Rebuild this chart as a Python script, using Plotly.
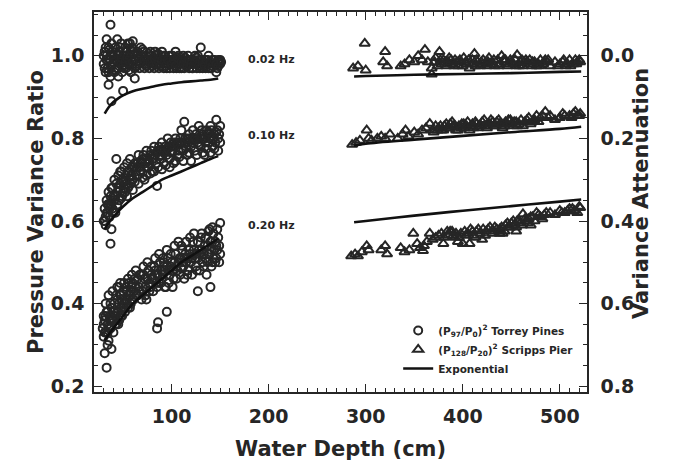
import plotly.graph_objects as go

# ---------------- data ----------------
# Torrey Pines, (P97/P0)^2, circles
tp02 = [(37,1.075),(35,0.93),(50,0.915),(38,0.89),(33,1.04),(60,1.035),(55,1.03),(130,1.02),(45,0.95),(62,0.945),
        (30,0.98),(31,1.01),(32,0.96),(33,1.00),(34,0.97),(35,1.02),(36,0.99),(37,0.95),(38,1.03),(39,0.98),
        (40,1.00),(41,0.96),(42,1.02),(43,0.99),(44,1.04),(45,0.97),(46,1.01),(47,0.98),(48,1.03),(49,0.96),
        (50,1.00),(51,0.99),(52,1.02),(53,0.97),(54,1.01),(55,0.98),(56,1.00),(57,1.03),(58,0.96),(59,0.99),
        (60,1.01),(62,0.97),(64,1.00),(66,0.98),(68,1.02),(70,0.99),(72,0.97),(74,1.00),(76,0.98),(78,1.01),
        (80,0.99),(82,0.97),(84,1.00),(86,0.98),(88,0.99),(90,1.01),(92,0.97),(94,0.99),(96,0.98),(98,1.00),
        (100,0.99),(102,0.97),(104,1.01),(106,0.98),(108,0.99),(110,0.97),(112,1.00),(114,0.98),(116,0.99),(118,0.97),
        (120,0.99),(122,0.98),(124,1.00),(126,0.97),(128,0.99),(130,0.98),(132,0.97),(134,0.99),(136,0.98),(138,1.00),
        (140,0.97),(142,0.99),(144,0.98),(146,0.96),(148,0.99),(150,0.98),
        (31,0.97),(33,0.99),(35,0.96),(37,1.00),(39,1.01),(41,0.99),(43,0.97),(45,1.00),(47,1.02),(49,0.99),
        (51,0.97),(53,1.00),(55,0.99),(57,0.98),(59,1.02),(61,0.99),(63,0.98),(65,1.01),(67,0.97),(69,1.00),
        (71,1.01),(73,0.98),(75,0.99),(77,0.97),(79,1.00),(81,0.98),(83,1.01),(85,0.99),(87,0.97),(89,1.00),
        (91,0.98),(93,1.00),(95,0.97),(97,0.99),(99,0.98),(101,1.00),(103,0.99),(105,0.97),(107,1.00),(109,0.98),
        (111,0.99),(113,0.97),(115,0.98),(117,1.00),(119,0.98),(121,0.97),(123,0.99),(125,0.98),(127,1.00),(129,0.97),
        (131,0.99),(133,0.98),(135,0.97),(137,0.99),(139,0.98),(141,0.97),(143,0.99),(145,0.98),(147,0.97),(149,0.985),
        (30,1.00),(32,1.02),(34,0.99),(36,1.015),(38,0.975),(40,0.985),(42,0.965),(44,1.005),(46,0.985),(48,0.995),
        (50,0.975),(52,0.985),(54,0.995),(56,0.965),(58,1.015),(60,0.985),(62,1.005),(64,0.975),(66,0.995),(68,0.985),
        (70,1.015),(72,0.99),(74,0.975),(76,1.005),(78,0.985),(80,0.975),(82,0.995),(84,0.98),(86,1.005),(88,0.975),
        (90,0.99),(92,1.0),(94,0.975),(96,0.99),(98,0.97),(100,0.98),(102,0.99),(104,0.975),(106,0.995),(108,0.97),
        (110,0.985),(112,0.98),(114,0.995),(116,0.975),(118,0.99),(120,0.98),(122,0.97),(124,0.985),(126,0.995),(128,0.975),
        (130,0.99),(132,0.985),(134,0.975),(136,0.99),(138,0.97),(140,0.985),(142,0.975),(144,0.99),(146,0.98),(148,0.975),
        (150,0.99),(151,0.985)]

tp10 = [(30,0.60),(31,0.63),(32,0.59),(33,0.65),(34,0.62),(35,0.67),(36,0.61),(37,0.64),(38,0.68),(39,0.63),
        (40,0.66),(41,0.70),(42,0.62),(43,0.75),(44,0.67),(45,0.71),(46,0.65),(47,0.69),(48,0.72),(49,0.66),
        (50,0.70),(51,0.73),(52,0.67),(53,0.71),(54,0.74),(55,0.68),(56,0.72),(57,0.75),(58,0.69),(59,0.73),
        (60,0.70),(62,0.74),(64,0.71),(66,0.76),(68,0.72),(70,0.75),(72,0.70),(74,0.77),(76,0.73),(78,0.76),
        (80,0.72),(82,0.78),(84,0.74),(85,0.685),(86,0.77),(88,0.75),(90,0.79),(92,0.74),(94,0.77),(96,0.80),
        (98,0.75),(100,0.78),(102,0.74),(104,0.80),(106,0.76),(108,0.79),(110,0.82),(112,0.77),(113,0.84),(114,0.80),
        (116,0.76),(118,0.81),(120,0.78),(122,0.82),(124,0.77),(126,0.80),(128,0.83),(130,0.78),(132,0.81),(134,0.76),
        (136,0.82),(138,0.79),(140,0.83),(142,0.78),(144,0.81),(146,0.845),(148,0.80),(150,0.83),
        (31,0.60),(33,0.62),(35,0.64),(37,0.66),(39,0.68),(41,0.65),(43,0.69),(45,0.68),(47,0.72),(49,0.70),
        (51,0.68),(53,0.69),(55,0.72),(57,0.70),(59,0.71),(61,0.73),(63,0.72),(65,0.74),(67,0.73),(69,0.74),
        (71,0.76),(73,0.74),(75,0.75),(77,0.74),(79,0.77),(81,0.75),(83,0.76),(87,0.78),(89,0.76),(91,0.77),
        (93,0.78),(95,0.76),(97,0.78),(99,0.79),(101,0.77),(103,0.78),(105,0.79),(107,0.77),(109,0.80),(111,0.79),
        (115,0.78),(117,0.79),(119,0.80),(121,0.79),(123,0.80),(125,0.81),(127,0.79),(129,0.80),(131,0.82),(133,0.80),
        (135,0.79),(137,0.81),(139,0.80),(141,0.82),(143,0.80),(145,0.79),(147,0.82),(149,0.81),
        (32,0.61),(34,0.64),(36,0.63),(38,0.65),(40,0.62),(42,0.66),(44,0.64),(46,0.68),(48,0.655),(50,0.67),
        (52,0.695),(54,0.66),(56,0.685),(58,0.71),(60,0.675),(62,0.695),(64,0.73),(66,0.69),(68,0.745),(70,0.705),
        (72,0.73),(74,0.71),(76,0.745),(78,0.715),(80,0.75),(82,0.72),(84,0.765),(86,0.73),(88,0.76),(90,0.725),
        (92,0.765),(94,0.735),(96,0.775),(98,0.73),(100,0.765),(102,0.79),(104,0.745),(106,0.785),(108,0.755),(110,0.775),
        (112,0.745),(114,0.79),(116,0.80),(118,0.765),(120,0.745),(122,0.795),(124,0.80),(126,0.76),(128,0.785),(130,0.805),
        (132,0.765),(134,0.80),(136,0.775),(138,0.815),(140,0.765),(142,0.80),(144,0.775),(146,0.815),(148,0.77),(150,0.79)]

tp20 = [(33,0.245),(31,0.28),(34,0.30),(38,0.29),(38,0.58),(37,0.545),(85,0.34),(86,0.355),(95,0.38),(127,0.43),
        (140,0.44),(146,0.54),(150,0.595),(142,0.585),(138,0.575),(44,0.44),(47,0.45),(92,0.50),(110,0.485),
        (29,0.34),(30,0.32),(31,0.36),(32,0.33),(33,0.38),(34,0.35),(35,0.31),(36,0.37),(37,0.34),(38,0.39),
        (39,0.36),(40,0.33),(41,0.40),(42,0.37),(43,0.35),(44,0.41),(45,0.38),(46,0.36),(47,0.42),(48,0.39),
        (49,0.37),(50,0.43),(51,0.40),(52,0.38),(53,0.44),(54,0.41),(55,0.39),(56,0.45),(57,0.42),(58,0.40),
        (59,0.44),(60,0.41),(62,0.46),(64,0.42),(66,0.44),(68,0.47),(70,0.43),(72,0.46),(74,0.41),(76,0.48),
        (78,0.44),(80,0.46),(82,0.49),(84,0.45),(86,0.47),(88,0.50),(90,0.46),(92,0.49),(94,0.44),(96,0.51),
        (98,0.47),(100,0.50),(102,0.46),(104,0.52),(106,0.48),(108,0.51),(110,0.54),(112,0.49),(114,0.52),(116,0.47),
        (118,0.53),(120,0.50),(122,0.55),(124,0.51),(126,0.48),(128,0.53),(130,0.56),(132,0.50),(134,0.54),(136,0.47),
        (138,0.52),(140,0.55),(142,0.50),(144,0.53),(146,0.51),(148,0.56),(150,0.52),
        (30,0.35),(32,0.37),(34,0.33),(36,0.34),(38,0.36),(40,0.38),(42,0.35),(44,0.38),(46,0.40),(48,0.42),
        (50,0.39),(52,0.41),(54,0.43),(56,0.42),(58,0.43),(60,0.45),(61,0.43),(63,0.44),(65,0.46),(67,0.43),
        (69,0.45),(71,0.47),(73,0.44),(75,0.46),(77,0.45),(79,0.47),(81,0.46),(83,0.48),(85,0.47),(87,0.45),
        (89,0.48),(91,0.47),(93,0.48),(95,0.49),(97,0.48),(99,0.49),(101,0.48),(103,0.50),(105,0.49),(107,0.50),
        (109,0.51),(111,0.50),(113,0.51),(115,0.50),(117,0.51),(119,0.52),(121,0.51),(123,0.53),(125,0.52),(127,0.51),
        (129,0.52),(131,0.53),(133,0.52),(135,0.51),(137,0.54),(139,0.52),(141,0.53),(143,0.51),(145,0.55),(147,0.53),
        (149,0.54),
        (30,0.37),(31,0.33),(32,0.40),(34,0.38),(35,0.42),(36,0.36),(37,0.40),(39,0.43),(40,0.36),(41,0.38),
        (43,0.42),(45,0.35),(46,0.44),(48,0.37),(49,0.41),(51,0.45),(53,0.40),(55,0.46),(57,0.39),(59,0.47),
        (61,0.41),(63,0.48),(65,0.42),(67,0.47),(69,0.41),(71,0.49),(73,0.42),(75,0.50),(77,0.43),(79,0.49),
        (81,0.43),(83,0.51),(85,0.44),(87,0.52),(89,0.45),(91,0.51),(93,0.44),(95,0.53),(97,0.45),(99,0.52),
        (101,0.44),(103,0.54),(105,0.46),(107,0.55),(109,0.47),(111,0.53),(113,0.46),(115,0.55),(117,0.48),(119,0.56),
        (121,0.47),(123,0.57),(125,0.49),(127,0.55),(129,0.48),(131,0.57),(133,0.49),(135,0.56),(137,0.50),(139,0.58),
        (141,0.49),(143,0.57),(145,0.50),(147,0.58),(149,0.50)]

# Scripps Pier, (P128/P20)^2, triangles
sp02 = [(287,0.97),(292,0.975),(299,1.03),(300,0.965),(318,0.985),(320,1.01),(322,0.975),(336,0.975),(340,0.98),(345,0.99),
        (350,0.985),(354,1.0),(358,0.99),(361,1.015),(364,0.985),(368,0.97),(368,0.955),(372,0.995),(376,1.01),(380,0.99),
        (383,0.975),(386,0.995),(389,0.98),(392,0.99),(395,0.975),(398,0.985),(401,0.995),(404,0.98),(407,0.97),(410,0.99),
        (412,1.005),(415,0.985),(418,0.975),(421,0.99),(424,0.98),(427,0.995),(430,0.985),(433,0.975),(436,0.99),(440,1.0),
        (443,0.985),(446,0.975),(449,0.99),(452,0.98),(456,1.002),(459,0.985),(462,0.975),(465,0.99),(468,0.98),(472,0.985),
        (476,0.975),(480,0.99),(483,0.98),(487,0.985),(490,0.975),(500,0.98),(503,0.985),(506,0.975),(510,0.99),(514,0.98),
        (518,0.985),(521,0.985),(378,0.98),(385,0.985),(391,0.975),(397,0.99),(403,0.985),(409,0.98),(414,0.99),(420,0.98),
        (426,0.985),(432,0.99),(438,0.98),(444,0.99),(450,0.985),(455,0.975),(461,0.99),(466,0.985),(471,0.975),(478,0.98),
        (485,0.99),(508,0.98),(516,0.99),
        (371,0.985),(374,0.975),(377,0.99),(382,0.985),(388,0.99),(394,0.985),(400,0.975),(406,0.99),(413,0.975),(419,0.985),
        (425,0.975),(431,0.98),(437,0.975),(442,0.99),(448,0.98),(454,0.99),(458,0.975),(463,0.985),(469,0.99),(474,0.985),
        (479,0.975),(484,0.985),(488,0.99),(495,0.985),(498,0.975),(504,0.99),(511,0.975),(517,0.98),(520,0.99)]

sp10 = [(286,0.785),(290,0.79),(294,0.795),(301,0.82),(303,0.80),(306,0.795),(312,0.80),(316,0.805),(320,0.80),(325,0.81),
        (333,0.80),(338,0.81),(341,0.82),(344,0.805),(350,0.815),(354,0.81),(358,0.82),(362,0.825),(366,0.836),(369,0.82),
        (372,0.83),(375,0.825),(378,0.82),(381,0.83),(384,0.825),(387,0.835),(390,0.83),(393,0.82),(396,0.83),(399,0.835),
        (402,0.825),(405,0.84),(408,0.83),(411,0.825),(414,0.835),(417,0.83),(420,0.84),(423,0.83),(426,0.835),(429,0.845),
        (432,0.83),(435,0.84),(438,0.835),(441,0.825),(444,0.84),(447,0.845),(450,0.835),(453,0.84),(456,0.83),(460,0.845),
        (464,0.84),(468,0.85),(472,0.84),(476,0.855),(480,0.85),(485,0.865),(490,0.855),(500,0.85),(503,0.86),(510,0.855),
        (514,0.86),(518,0.855),(521,0.86),
        (370,0.815),(374,0.82),(377,0.83),(380,0.82),(383,0.835),(386,0.825),(389,0.84),(392,0.83),(395,0.82),(398,0.825),
        (401,0.835),(404,0.83),(407,0.82),(410,0.835),(413,0.84),(416,0.825),(419,0.83),(422,0.845),(425,0.825),(428,0.835),
        (431,0.84),(434,0.83),(437,0.845),(440,0.835),(443,0.83),(446,0.835),(449,0.845),(452,0.83),(455,0.84),(458,0.835),
        (462,0.83),(466,0.845),(470,0.835),(474,0.845),(478,0.84),(482,0.855),(488,0.85),(495,0.845),(505,0.855),(512,0.85),
        (516,0.865),(520,0.855)]

sp20 = [(285,0.515),(289,0.52),(292,0.515),(296,0.525),(301,0.54),(303,0.53),(316,0.53),(320,0.54),(322,0.52),(336,0.535),
        (340,0.525),(345,0.53),(349,0.57),(353,0.545),(356,0.535),(359,0.528),(363,0.55),(366,0.57),(369,0.555),(372,0.56),
        (375,0.565),(378,0.57),(381,0.56),(384,0.575),(387,0.575),(390,0.565),(393,0.57),(396,0.56),(400,0.545),(402,0.575),
        (405,0.57),(408,0.58),(411,0.565),(414,0.575),(418,0.57),(421,0.58),(424,0.575),(428,0.585),(432,0.575),(435,0.58),
        (438,0.58),(441,0.57),(444,0.59),(447,0.585),(450,0.595),(453,0.59),(456,0.6),(459,0.595),(462,0.617),(465,0.60),
        (468,0.605),(472,0.61),(476,0.62),(480,0.61),(484,0.615),(490,0.62),(500,0.625),(505,0.62),(510,0.63),(515,0.625),
        (521,0.632),(360,0.54),(380,0.545),(395,0.55),(407,0.545),(420,0.555),(438,0.57),(455,0.575),(470,0.59),
        (385,0.565),(389,0.575),(392,0.56),(398,0.57),(403,0.565),(410,0.575),(413,0.56),(416,0.58),(423,0.565),(426,0.58),
        (430,0.57),(433,0.585),(437,0.575),(440,0.585),(443,0.575),(446,0.595),(449,0.585),(452,0.6),(455,0.585),(458,0.6),
        (461,0.59),(464,0.605),(467,0.595),(470,0.61),(474,0.6),(478,0.615),(482,0.605),(486,0.62),(495,0.615),(502,0.62),
        (508,0.625),(513,0.63),(518,0.62),(520,0.635)]

# Exponential curves
tp_line_x = [31, 35, 40, 45, 50, 60, 70, 80, 90, 100, 110, 120, 130, 140, 148]
tp_line02 = [0.86, 0.875, 0.888, 0.897, 0.904, 0.914, 0.92, 0.925, 0.93, 0.933, 0.936, 0.938, 0.940, 0.942, 0.945]
tp_line10 = [0.58, 0.595, 0.61, 0.623, 0.635, 0.655, 0.67, 0.685, 0.70, 0.71, 0.72, 0.73, 0.74, 0.75, 0.757]
tp_line20 = [0.31, 0.325, 0.34, 0.355, 0.37, 0.40, 0.42, 0.44, 0.46, 0.48, 0.50, 0.515, 0.53, 0.545, 0.557]
sp_line_x = [288, 300, 350, 400, 450, 500, 522]
sp_line02 = [0.950, 0.951, 0.954, 0.956, 0.958, 0.961, 0.962]
sp_line10 = [0.782, 0.787, 0.797, 0.806, 0.815, 0.823, 0.828]
sp_line20 = [0.597, 0.600, 0.613, 0.625, 0.636, 0.647, 0.652]

freq_labels = ["0.02 Hz", "0.10 Hz", "0.20 Hz"]
freq_label_y = [0.99, 0.807, 0.588]
legend_names = ["(P<sub>97</sub>/P<sub>0</sub>)<sup>2</sup> Torrey Pines",
                "(P<sub>128</sub>/P<sub>20</sub>)<sup>2</sup> Scripps Pier",
                "Exponential"]

# ---------------- figure ----------------
INK = "#262626"
FONT = "DejaVu Sans"

fig = go.Figure()

def add_cloud(pts, symbol, size, name, show):
    fig.add_trace(go.Scatter(
        x=[p[0] for p in pts], y=[p[1] for p in pts], mode="markers",
        marker=dict(symbol=symbol, size=size, color=INK, line=dict(color=INK, width=2.0)),
        name=name, legendgroup=name, showlegend=show, hoverinfo="skip"))

add_cloud(tp02, "circle-open", 8, legend_names[0], True)
add_cloud(tp10, "circle-open", 8, legend_names[0], False)
add_cloud(tp20, "circle-open", 8, legend_names[0], False)
add_cloud(sp02, "triangle-up-open", 9, legend_names[1], True)
add_cloud(sp10, "triangle-up-open", 9, legend_names[1], False)
add_cloud(sp20, "triangle-up-open", 9, legend_names[1], False)

first = True
for xs, ys in [(tp_line_x, tp_line02), (tp_line_x, tp_line10), (tp_line_x, tp_line20),
               (sp_line_x, sp_line02), (sp_line_x, sp_line10), (sp_line_x, sp_line20)]:
    fig.add_trace(go.Scatter(x=xs, y=ys, mode="lines", line=dict(color="#111111", width=2.6, shape="spline"),
                             name=legend_names[2], legendgroup="exp", showlegend=first, hoverinfo="skip"))
    first = False

# invisible trace to activate right axis
fig.add_trace(go.Scatter(x=[300], y=[0.5], yaxis="y2", mode="markers", marker=dict(opacity=0),
                         showlegend=False, hoverinfo="skip"))

for lab, yv in zip(freq_labels, freq_label_y):
    fig.add_annotation(x=203, y=yv, text=lab, showarrow=False,
                       font=dict(family=FONT, size=11, color=INK, weight="bold"))

# axis titles
fig.add_annotation(xref="paper", yref="paper", x=0.5, y=0, yanchor="top", yshift=-43,
                   text="Water Depth (cm)", showarrow=False,
                   font=dict(family=FONT, size=21, color=INK, weight="bold"))
fig.add_annotation(xref="paper", yref="paper", x=0, y=0.474, xshift=-72, textangle=-90,
                   text="Pressure Variance Ratio", showarrow=False,
                   font=dict(family=FONT, size=21, color=INK, weight="bold"))
fig.add_annotation(xref="paper", yref="paper", x=1, y=0.521, xshift=68, textangle=-90,
                   text="Variance Attenuation", showarrow=False,
                   font=dict(family=FONT, size=21, color=INK, weight="bold"))

tickfont = dict(family=FONT, size=19, color=INK, weight="bold")
YLO, YHI = 0.186, 1.106

# the page body has an 8px margin: the figure is offset by (8, 8)
fig.update_layout(
    width=668, height=457,
    margin=dict(l=86, r=89, t=2, b=73),
    paper_bgcolor="white", plot_bgcolor="white",
    font=dict(family=FONT, color=INK),
    xaxis=dict(range=[20, 528], tickmode="array", tickvals=[100, 200, 300, 400, 500],
               ticks="inside", ticklen=8, tickwidth=1.2, tickcolor=INK,
               minor=dict(dtick=10, tick0=0, ticks="inside", ticklen=4, tickwidth=1, tickcolor=INK),
               showline=True, linecolor=INK, linewidth=1.6, mirror="ticks",
               showgrid=False, zeroline=False, tickfont=tickfont, ticklabelstandoff=6),
    yaxis=dict(range=[YLO, YHI], tickvals=[0.2, 0.4, 0.6, 0.8, 1.0], tickformat=".1f",
               ticks="inside", ticklen=8, tickwidth=1.2, tickcolor=INK,
               minor=dict(dtick=0.05, tick0=0, ticks="inside", ticklen=4, tickwidth=1, tickcolor=INK),
               showline=True, linecolor=INK, linewidth=1.6,
               showgrid=False, zeroline=False, tickfont=tickfont, ticklabelstandoff=4),
    yaxis2=dict(range=[1 - YLO, 1 - YHI], overlaying="y", side="right",
                tickvals=[0.0, 0.2, 0.4, 0.6, 0.8], tickformat=".1f",
                ticks="inside", ticklen=8, tickwidth=1.2, tickcolor=INK,
                minor=dict(dtick=0.05, tick0=0, ticks="inside", ticklen=4, tickwidth=1, tickcolor=INK),
                showline=True, linecolor=INK, linewidth=1.6,
                showgrid=False, zeroline=False, tickfont=tickfont, ticklabelstandoff=8),
    legend=dict(x=0.617, y=0.20, xanchor="left", yanchor="top", bgcolor="rgba(0,0,0,0)",
                font=dict(family=FONT, size=10.5, color=INK, weight="bold"),
                itemwidth=30, tracegroupgap=0),
    showlegend=True,
)

fig.write_html("out.html")
